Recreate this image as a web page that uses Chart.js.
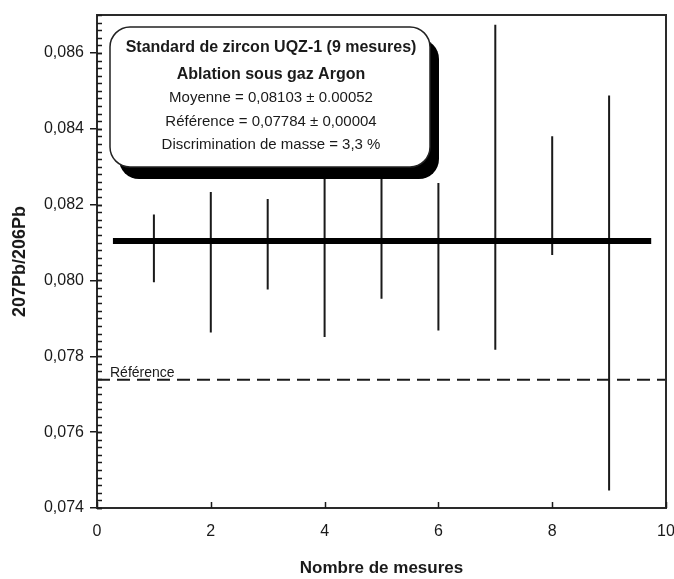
<!DOCTYPE html>
<html>
<head>
<meta charset="utf-8">
<script src="https://cdn.jsdelivr.net/npm/chart.js@4.4.1/dist/chart.umd.min.js"></script>
<style>
  html, body { margin: 0; padding: 0; background: #ffffff; }
  #wrap { width: 674px; height: 579px; position: relative; }
</style>
</head>
<body>
<div id="wrap"><canvas id="c" width="674" height="579"></canvas></div>
<script>
// ---- Data ----
const measures = [1, 2, 3, 4, 5, 6, 7, 8, 9];
const highs = [0.08174, 0.08233, 0.08215, 0.08360, 0.08330, 0.08257, 0.08674, 0.08380, 0.08488];
const lows  = [0.07995, 0.07863, 0.07976, 0.07851, 0.07952, 0.07868, 0.07817, 0.08067, 0.07446];
const meanValue = 0.08104;
const meanRange = [0.28, 9.74];
const referenceValue = 0.07738;
const referenceRange = [0, 10];
const xTicks = [0, 2, 4, 6, 8, 10];
const yTicks = [0.074, 0.076, 0.078, 0.080, 0.082, 0.084, 0.086];
const yMinorStep = 0.0002;
const xLabel = 'Nombre de mesures';
const yLabel = '207Pb/206Pb';
const referenceLabel = 'Référence';
const boxLines = [
  'Standard de zircon UQZ-1 (9 mesures)',
  'Ablation sous gaz Argon',
  'Moyenne = 0,08103 ± 0.00052',
  'Référence = 0,07784 ± 0,00004',
  'Discrimination de masse = 3,3 %'
];

const FONT = '"Liberation Sans", Arial, sans-serif';
const INK = '#1a1a1a';

// error bar segments built from the arrays
const errorData = [];
measures.forEach((m, i) => {
  errorData.push({ x: m, y: lows[i] });
  errorData.push({ x: m, y: highs[i] });
  errorData.push({ x: m, y: null });
});

const meanData = meanRange.map(x => ({ x: x, y: meanValue }));
const refData = referenceRange.map(x => ({ x: x, y: referenceValue }));

function roundRect(ctx, x, y, w, h, r) {
  ctx.beginPath();
  ctx.moveTo(x + r, y);
  ctx.lineTo(x + w - r, y);
  ctx.arcTo(x + w, y, x + w, y + r, r);
  ctx.lineTo(x + w, y + h - r);
  ctx.arcTo(x + w, y + h, x + w - r, y + h, r);
  ctx.lineTo(x + r, y + h);
  ctx.arcTo(x, y + h, x, y + h - r, r);
  ctx.lineTo(x, y + r);
  ctx.arcTo(x, y, x + r, y, r);
  ctx.closePath();
}

const decorPlugin = {
  id: 'decor',
  afterDatasetsDraw(chart) {
    const ctx = chart.ctx;
    const a = chart.chartArea;
    const xs = chart.scales.x, ys = chart.scales.y;
    ctx.save();

    // plot frame
    ctx.strokeStyle = '#2a2a2a';
    ctx.lineWidth = 2;
    ctx.strokeRect(a.left, a.top, a.right - a.left, a.bottom - a.top);

    // minor y ticks (inside)
    ctx.lineWidth = 1.5;
    ctx.strokeStyle = INK;
    const n = Math.round((ys.max - ys.min) / yMinorStep);
    for (let i = 0; i <= n; i++) {
      const v = ys.min + i * yMinorStep;
      const py = Math.round(ys.getPixelForValue(v)) + 0.5;
      ctx.beginPath();
      ctx.moveTo(a.left, py);
      ctx.lineTo(a.left + 5, py);
      ctx.stroke();
    }
    yTicks.forEach(v => {
      const py = Math.round(ys.getPixelForValue(v)) + 0.5;
      ctx.beginPath();
      ctx.moveTo(a.left, py);
      ctx.lineTo(a.left + 5, py);
      ctx.stroke();
    });
    // x ticks (inside, upward)
    xTicks.forEach(v => {
      const px = Math.round(xs.getPixelForValue(v)) + 0.5;
      ctx.beginPath();
      ctx.moveTo(px, a.bottom);
      ctx.lineTo(px, a.bottom - 6);
      ctx.stroke();
    });

    // reference label
    ctx.fillStyle = INK;
    ctx.font = '14px ' + FONT;
    ctx.textAlign = 'left';
    ctx.textBaseline = 'alphabetic';
    ctx.fillText(referenceLabel, a.left + 13, ys.getPixelForValue(referenceValue) - 3);

    // annotation box with shadow
    const bx = a.left + 13, by = a.top + 12, bw = 320, bh = 140, r = 20;
    ctx.fillStyle = '#000';
    roundRect(ctx, bx + 9, by + 12, bw, bh, r);
    ctx.fill();
    ctx.fillStyle = '#fff';
    roundRect(ctx, bx, by, bw, bh, r);
    ctx.fill();
    ctx.lineWidth = 1.5;
    ctx.strokeStyle = '#222';
    ctx.stroke();

    ctx.fillStyle = INK;
    ctx.textAlign = 'center';
    ctx.textBaseline = 'middle';
    const cx = bx + bw / 2 + 1;
    const lineY = [21, 48, 71, 95, 118];
    boxLines.forEach((t, i) => {
      ctx.font = (i < 2 ? 'bold 16px ' : '15px ') + FONT;
      ctx.fillText(t, cx, by + lineY[i]);
    });
    ctx.restore();
  }
};

new Chart(document.getElementById('c'), {
  type: 'line',
  data: {
    datasets: [
      {
        label: 'Référence',
        data: refData,
        borderColor: INK,
        borderWidth: 2,
        borderDash: [13, 7],
        pointRadius: 0,
        fill: false
      },
      {
        label: 'Moyenne',
        data: meanData,
        borderColor: '#000',
        borderWidth: 6,
        pointRadius: 0,
        fill: false
      },
      {
        label: 'Mesures',
        data: errorData,
        borderColor: INK,
        borderWidth: 2,
        pointRadius: 0,
        spanGaps: false,
        fill: false
      }
    ]
  },
  options: {
    responsive: false,
    animation: false,
    devicePixelRatio: 1,
    layout: { padding: { left: 0, right: 8, top: 15, bottom: 0 } },
    plugins: {
      legend: { display: false },
      tooltip: { enabled: false },
      title: { display: false }
    },
    scales: {
      x: {
        type: 'linear',
        min: 0,
        max: 10,
        afterBuildTicks: s => { s.ticks = xTicks.map(v => ({ value: v })); },
        afterFit: s => { s.height = 71; s.paddingRight = 0; s.paddingLeft = 0; },
        grid: { display: false, drawTicks: false },
        border: { display: false },
        ticks: {
          color: INK,
          font: { family: FONT, size: 16 },
          padding: 14,
          maxRotation: 0,
          autoSkip: false
        },
        title: {
          display: true,
          text: xLabel,
          color: INK,
          font: { family: FONT, size: 17, weight: 'bold' },
          padding: { top: 0, bottom: 0 }
        }
      },
      y: {
        type: 'linear',
        min: 0.074,
        max: 0.087,
        afterBuildTicks: s => { s.ticks = yTicks.map(v => ({ value: v })); },
        afterFit: s => { s.width = 97; s.paddingTop = 0; s.paddingBottom = 0; },
        grid: {
          display: true,
          drawOnChartArea: false,
          drawTicks: true,
          tickLength: 7,
          color: INK,
          lineWidth: 1.5
        },
        border: { display: false },
        ticks: {
          color: INK,
          font: { family: FONT, size: 16 },
          padding: 6,
          autoSkip: false,
          callback: v => v.toFixed(3).replace('.', ',')
        },
        title: {
          display: true,
          text: yLabel,
          color: INK,
          font: { family: FONT, size: 18, weight: 'bold' },
          padding: { top: 9, bottom: 0 }
        }
      }
    }
  },
  plugins: [decorPlugin]
});
</script>
</body>
</html>
